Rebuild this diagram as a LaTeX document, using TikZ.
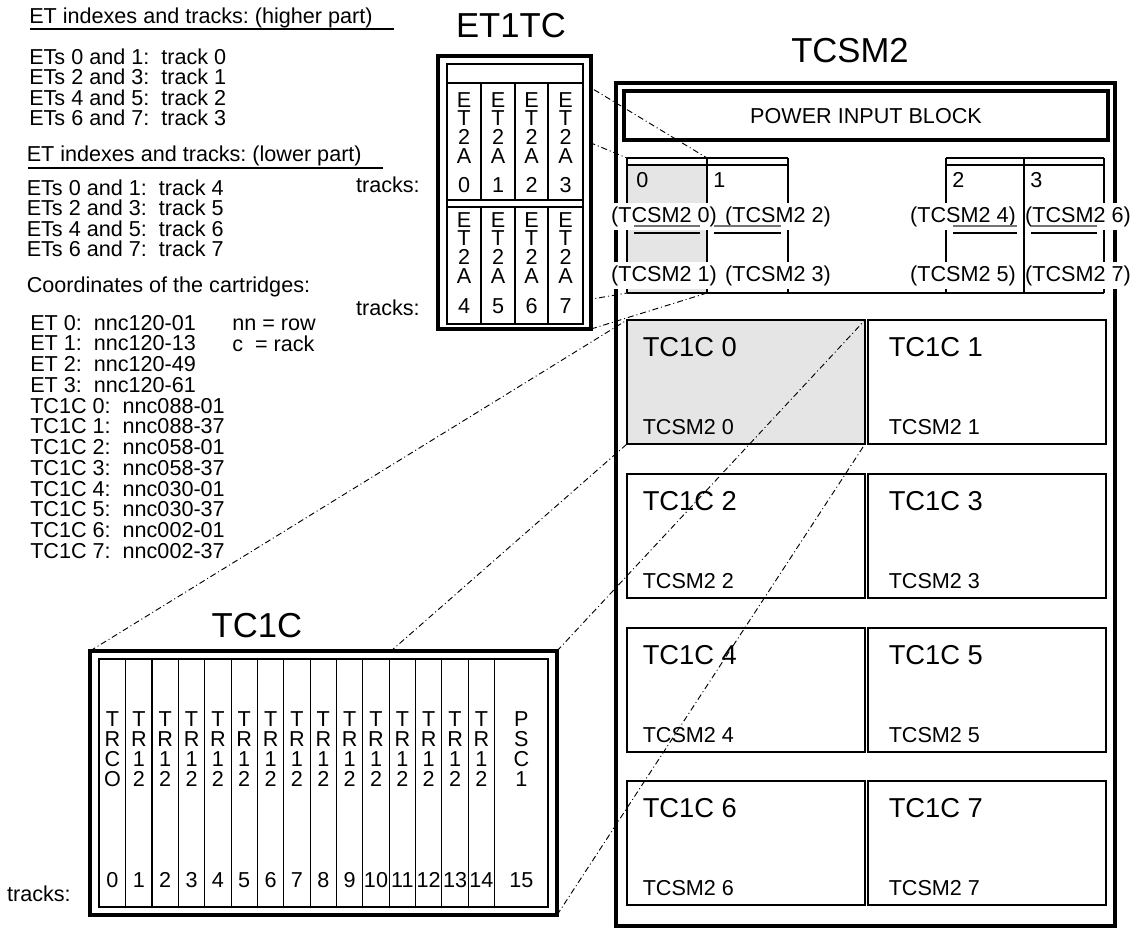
\documentclass[tikz,border=0pt]{standalone}
\usepackage{fontspec}
\setmainfont{Liberation Sans}
\begin{document}
\frenchspacing
\begin{tikzpicture}[x=0.75pt,y=-0.75pt]
\tikzset{
  txt/.style={font=\fontsize{16.2}{18}\selectfont, inner sep=0pt},
  bw/.style={txt, anchor=base west},
  bc/.style={txt, anchor=base},
  be/.style={txt, anchor=base east},
  ttl/.style={font=\fontsize{26}{30}\selectfont, inner sep=0pt, anchor=base},
  cart/.style={font=\fontsize{20.5}{24}\selectfont, inner sep=0pt, anchor=base west},
  heavy/.style={line width=3pt},
  heavyb/.style={line width=3.3pt},
  thinln/.style={line width=0.85pt},
  projline/.style={line width=0.7pt, dash pattern=on 4.5pt off 2.2pt on 0.75pt off 2.2pt},
  lbl/.style={txt, anchor=base, fill=white, inner xsep=0.5pt, inner ysep=2.5pt},
  shade/.style={fill=black!10},
}
\useasboundingbox (0,0) rectangle (1137,929);

% ---------------- named corner coordinates ----------------
\coordinate (etUL) at (447,83);
\coordinate (etUR) at (583,83);
\coordinate (etBL) at (447,324);
\coordinate (etBR) at (591,329);
\coordinate (s0TL) at (627,158);
\coordinate (s0TR) at (707,158);
\coordinate (s0BL) at (627,293);
\coordinate (s0BR) at (707,293);
\coordinate (tcTL) at (90,651);
\coordinate (tcTR) at (557,651);
\coordinate (tcBL) at (90,915);
\coordinate (tcBR) at (557,915);
\coordinate (c0TL) at (627,320);
\coordinate (c0TR) at (865,320);
\coordinate (c0BL) at (627,444);
\coordinate (c0BR) at (865,444);

% ---------------- left texts ----------------
\node[bw] (h1) at (29,23) {ET indexes and tracks: (higher part)};
\draw[line width=1.1pt] (30,29) -- (394,29);
\foreach \pa/\pb/\tr [count=\i from 0] in {0/1/0,2/3/1,4/5/2,6/7/3}
  \node[bw] (hi\i) at (29,{64+20.5*\i}) {ETs \pa\ and \pb:\ \ track \tr};
\node[bw] (h2) at (26.5,161) {ET indexes and tracks: (lower part)};
\draw[line width=1.1pt] (28,168) -- (383,168);
\foreach \pa/\pb/\tr [count=\i from 0] in {0/1/4,2/3/5,4/5/6,6/7/7}
  \node[bw] (lo\i) at (26.5,{195+20.5*\i}) {ETs \pa\ and \pb:\ \ track \tr};
\node[bw] (h3) at (26.5,292) {Coordinates of the cartridges:};
\foreach \s [count=\i from 0] in {ET 0:\ \ nnc120-01,ET 1:\ \ nnc120-13,ET 2:\ \ nnc120-49,ET 3:\ \ nnc120-61,TC1C 0:\ \ nnc088-01,TC1C 1:\ \ nnc088-37,TC1C 2:\ \ nnc058-01,TC1C 3:\ \ nnc058-37,TC1C 4:\ \ nnc030-01,TC1C 5:\ \ nnc030-37,TC1C 6:\ \ nnc002-01,TC1C 7:\ \ nnc002-37}
  \node[bw] (co\i) at (30,{330+20.75*\i}) {\s};
\node[bw] (nnrow) at (232,330) {nn = row};
\node[bw] (crack) at (232,351) {c\ \ = rack};
\node[be] (trk1) at (420,192) {tracks:};
\node[be] (trk2) at (420,315) {tracks:};
\node[be] (trk3) at (71,901) {tracks:};

% ---------------- TCSM2 ----------------
\node[ttl] (tcsmtitle) at (850,62) {TCSM2};
\draw[heavyb] (616,83) rectangle (1115,926);
\draw[heavy] (624,91) rectangle (1108,140);
\node[bc] (pib) at (866,123) {POWER INPUT BLOCK};

% slots
\fill[shade] (627,165) rectangle (707,293);
\draw[thinln] (627,158) -- (788,158) (627,165) -- (788,165)
  (627,158) -- (627,293) (707,158) -- (707,293) (788,158) -- (788,293);
\draw[thinln] (946,158) -- (1104,158) (946,165) -- (1104,165)
  (946,158) -- (946,293) (1024,158) -- (1024,293) (1104,158) -- (1104,293);
\draw[thinln] (627,293) -- (1104,293);
\node[bw] (sd0) at (636,187) {0};
\node[bw] (sd1) at (713,187) {1};
\node[bw] (sd2) at (952,187) {2};
\node[bw] (sd3) at (1030,187) {3};
\node[lbl] (sl0) at (664,222) {(TCSM2 0)};
\node[lbl] (sl2) at (778,222) {(TCSM2 2)};
\node[lbl] (sl4) at (963,222) {(TCSM2 4)};
\node[lbl] (sl6) at (1078,222) {(TCSM2 6)};
\node[lbl] (sl1) at (664,281) {(TCSM2 1)};
\node[lbl] (sl3) at (778,281) {(TCSM2 3)};
\node[lbl] (sl5) at (963,281) {(TCSM2 5)};
\node[lbl] (sl7) at (1078,281) {(TCSM2 7)};
\foreach \l/\r in {627/707,707/788,946/1024,1024/1104} {
  \draw[thinln, black!55] (\l+7,226) -- (\r-7,226);
  \draw[thinln] (\l+7,233) -- (\r-7,233);
}

% cartridge boxes
\fill[shade] (c0TL) rectangle (c0BR);
\foreach \r/\yt in {0/320,1/474,2/628,3/781} {
  \pgfmathtruncatemacro\na{2*\r}
  \pgfmathtruncatemacro\nb{2*\r+1}
  \draw[thinln] (627,\yt) rectangle (865,\yt+124);
  \draw[thinln] (868,\yt) rectangle (1106,\yt+124);
  \node[cart] (cb\na) at (642.5,\yt+36) {TC1C \na};
  \node[bw] (cs\na) at (642.5,\yt+114) {TCSM2 \na};
  \node[cart] (cb\nb) at (888.5,\yt+36) {TC1C \nb};
  \node[bw] (cs\nb) at (888.5,\yt+114) {TCSM2 \nb};
}

% ---------------- projection lines ----------------
\draw[projline] (etUR) -- (s0TR);
\draw[projline] (etUL) -- (s0TL);
\draw[projline] (etBL) -- (s0BL);
\draw[projline] (etBR) -- (s0BR);
\draw[projline] (tcTL) -- (c0TL);
\draw[projline] (tcBL) -- (c0BL);
\draw[projline] (tcTR) -- (c0TR);
\draw[projline] (tcBR) -- (c0BR);

% ---------------- ET1TC ----------------
\node[ttl] (ettitle) at (511,37) {ET1TC};
\draw[heavy, fill=white] (438,56) rectangle (591,329);
\draw[thinln] (447,64) rectangle (583,324);
\draw[thinln] (447,83) -- (583,83) (447,200) -- (583,200) (447,207) -- (583,207);
\foreach \dx in {481,515,548}
  \draw[thinln] (\dx,83) -- (\dx,200) (\dx,207) -- (\dx,324);
\foreach \cx [count=\k from 0] in {464,498,531.5,565.5} {
  \foreach \ch [count=\j from 0] in {E,T,2,A} {
    \node[bc] (eu\k-\j) at (\cx,{107+18.7*\j}) {\ch};
    \node[bc] (el\k-\j) at (\cx,{227+18.7*\j}) {\ch};
  }
  \pgfmathtruncatemacro\m{\k+4}
  \node[bc] (eud\k) at (\cx,192) {\k};
  \node[bc] (eld\k) at (\cx,313) {\m};
}

% ---------------- TC1C ----------------
\node[ttl] (tctitle) at (257,637) {TC1C};
\draw[heavy, fill=white] (tcTL) rectangle (tcBR);
\draw[thinln] (99,659) rectangle (548,907);
\foreach \k in {0,...,14}
  \draw[thinln] ({125.7+26.35*\k},659) -- ({125.7+26.35*\k},907);
\foreach \ch [count=\j from 0] in {T,R,C,O}
  \node[bc] (tc0-\j) at (112.4,{726+20.2*\j}) {\ch};
\node[bc] (tcd0) at (112.4,887) {0};
\foreach \k in {1,...,14} {
  \foreach \ch [count=\j from 0] in {T,R,1,2}
    \node[bc] (tc\k-\j) at ({112.5+26.35*\k},{726+20.2*\j}) {\ch};
  \node[bc] (tcd\k) at ({112.5+26.35*\k},887) {\k};
}
\foreach \ch [count=\j from 0] in {P,S,C,1}
  \node[bc] (tc15-\j) at (521.3,{726+20.2*\j}) {\ch};
\node[bc] (tcd15) at (521.3,887) {15};
\end{tikzpicture}
\end{document}
